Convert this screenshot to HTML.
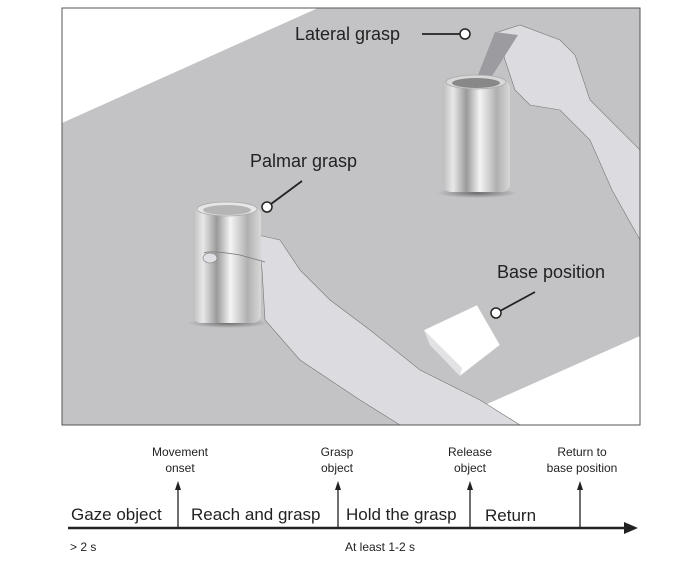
<!DOCTYPE html>
<html><head><meta charset="utf-8"><style>
body{margin:0;background:#fff;width:700px;height:556px;overflow:hidden}
text{font-family:"Liberation Sans",sans-serif;fill:#222}
</style></head><body>
<svg width="700" height="556" viewBox="0 0 700 556" xmlns="http://www.w3.org/2000/svg">
<defs>
<linearGradient id="can" x1="0" x2="1" y1="0" y2="0">
<stop offset="0" stop-color="#bdbdbd"/><stop offset="0.15" stop-color="#e8e8e8"/>
<stop offset="0.35" stop-color="#9a9a9a"/><stop offset="0.55" stop-color="#f4f4f4"/>
<stop offset="0.8" stop-color="#b0b0b0"/><stop offset="1" stop-color="#d8d8d8"/>
</linearGradient>
<radialGradient id="sh"><stop offset="0" stop-color="#555" stop-opacity=".8"/><stop offset="1" stop-color="#555" stop-opacity="0"/></radialGradient>
</defs>
<rect x="62" y="8" width="578" height="417" fill="#c3c3c6"/>
<polygon points="62,8 318,8 62,123" fill="#fff"/>
<polygon points="640,336 640,425 440,425" fill="#fff"/>
<!-- arm right (lateral) -->
<polygon points="498,32 520,25 560,40 575,55 590,100 640,150 640,240 612,190 590,140 560,110 530,105 515,90 505,60" fill="#dcdce0" stroke="#777" stroke-width="0.6"/>
<polygon points="495,32 518,35 480,95 472,90" fill="#9c9ca0"/>
<!-- can right -->
<ellipse cx="477" cy="193" rx="40" ry="5" fill="url(#sh)"/>
<rect x="443" y="80" width="67" height="112" rx="8" fill="url(#can)"/>
<ellipse cx="476" cy="82" rx="30" ry="7" fill="#d8d8d8" stroke="#aaa" stroke-width="0.8"/>
<ellipse cx="476" cy="83" rx="24" ry="5" fill="#888"/>
<!-- arm left -->
<polygon points="258,235 280,240 300,270 330,300 370,330 420,370 480,400 520,425 400,425 360,400 300,360 265,320 262,270" fill="#dcdce0" stroke="#777" stroke-width="0.6"/>
<!-- can left -->
<ellipse cx="228" cy="323" rx="40" ry="5" fill="url(#sh)"/>
<rect x="193" y="207" width="68" height="116" rx="8" fill="url(#can)"/>
<ellipse cx="227" cy="209" rx="30" ry="7" fill="#e6e6e6" stroke="#aaa" stroke-width="0.8"/>
<ellipse cx="227" cy="210" rx="24" ry="5" fill="#b5b5b5"/>
<path d="M204,253 Q210,250 240,255 L265,262" fill="none" stroke="#777" stroke-width="0.7"/>
<ellipse cx="210" cy="258" rx="7" ry="5" fill="#e0e0e4" stroke="#777" stroke-width="0.6"/>
<!-- box -->
<polygon points="424,330 477,305 500,345 460,376 430,345" fill="#fff" stroke="#ccc" stroke-width="0.6"/>
<polygon points="424,330 430,345 460,376 462,368" fill="#e2e2e4"/>
<rect x="62" y="8" width="578" height="417" fill="none" stroke="#555" stroke-width="1"/>
<!-- labels -->
<text x="295" y="40" font-size="18">Lateral grasp</text>
<line x1="422" y1="34" x2="460" y2="34" stroke="#222" stroke-width="1.8"/>
<circle cx="465" cy="34" r="5" fill="#fff" stroke="#222" stroke-width="1.5"/>
<text x="250" y="167" font-size="18">Palmar grasp</text>
<line x1="302" y1="181" x2="271" y2="204" stroke="#222" stroke-width="1.8"/>
<circle cx="267" cy="207" r="5" fill="#fff" stroke="#222" stroke-width="1.5"/>
<text x="497" y="278" font-size="18">Base position</text>
<line x1="535" y1="292" x2="500" y2="311" stroke="#222" stroke-width="1.8"/>
<circle cx="496" cy="313" r="5" fill="#fff" stroke="#222" stroke-width="1.5"/>
<!-- timeline -->
<line x1="68" y1="528" x2="628" y2="528" stroke="#222" stroke-width="2.5"/>
<polygon points="638,528 624,522 624,534" fill="#222"/>
<g stroke="#222" stroke-width="1.3">
<line x1="178" y1="528" x2="178" y2="487"/><line x1="338" y1="528" x2="338" y2="487"/>
<line x1="470" y1="528" x2="470" y2="487"/><line x1="580" y1="528" x2="580" y2="487"/>
</g>
<g fill="#222">
<polygon points="178,481 175,490 181,490"/><polygon points="338,481 335,490 341,490"/>
<polygon points="470,481 467,490 473,490"/><polygon points="580,481 577,490 583,490"/>
</g>
<g font-size="12" text-anchor="middle">
<text x="180" y="456">Movement</text><text x="180" y="472">onset</text>
<text x="337" y="456">Grasp</text><text x="337" y="472">object</text>
<text x="470" y="456">Release</text><text x="470" y="472">object</text>
<text x="582" y="456">Return to</text><text x="582" y="472">base position</text>
</g>
<g font-size="17">
<text x="71" y="520">Gaze object</text>
<text x="191" y="520">Reach and grasp</text>
<text x="346" y="520">Hold the grasp</text>
<text x="485" y="521">Return</text>
</g>
<text x="70" y="551" font-size="12">&gt; 2 s</text>
<text x="345" y="551" font-size="12">At least 1-2 s</text>
</svg>
</body></html>
